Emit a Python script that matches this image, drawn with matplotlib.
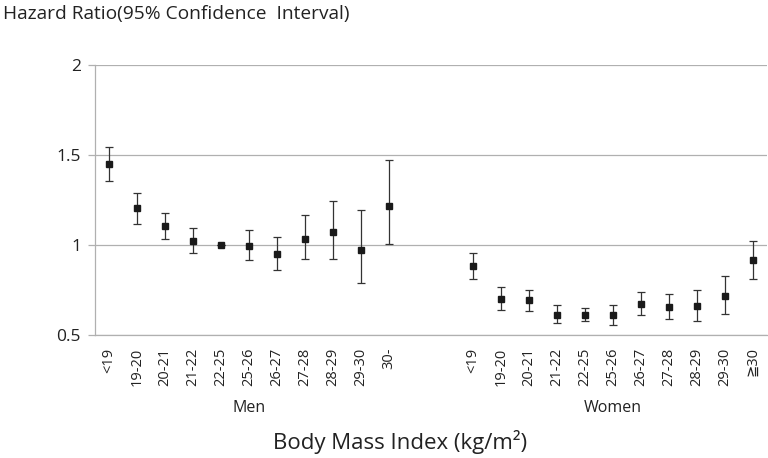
import numpy as np
import matplotlib.pyplot as plt
import matplotlib.transforms as mtransforms

plt.rcParams['font.family'] = ['Open Sans', 'DejaVu Sans']

# BMI categories for each group
men_labels = ['<19', '19-20', '20-21', '21-22', '22-25', '25-26', '26-27', '27-28', '28-29', '29-30', '30-']
women_labels = ['<19', '19-20', '20-21', '21-22', '22-25', '25-26', '26-27', '27-28', '28-29', '29-30', '≧30']

# hazard ratios with 95% CI
men_hr = [1.448, 1.204, 1.106, 1.022, 1.0, 0.994, 0.948, 1.035, 1.072, 0.970, 1.217]
men_lo = [1.355, 1.117, 1.032, 0.957, 1.0, 0.915, 0.859, 0.920, 0.924, 0.789, 1.007]
men_hi = [1.544, 1.289, 1.178, 1.094, 1.0, 1.081, 1.043, 1.165, 1.246, 1.196, 1.470]

women_hr = [0.883, 0.702, 0.694, 0.613, 0.613, 0.609, 0.674, 0.654, 0.663, 0.715, 0.915]
women_lo = [0.811, 0.637, 0.631, 0.565, 0.578, 0.557, 0.611, 0.587, 0.576, 0.615, 0.811]
women_hi = [0.956, 0.769, 0.752, 0.668, 0.650, 0.668, 0.741, 0.728, 0.752, 0.830, 1.024]

gap = 2  # empty slots between men and women

fig = plt.figure(figsize=(7.68, 4.58), dpi=100)
ax = fig.add_axes([0.1237, 0.2686, 0.8753, 0.5895])

x_men = np.arange(len(men_labels))
x_women = np.arange(len(women_labels)) + len(men_labels) + gap

for xs, hr, lo, hi in [(x_men, men_hr, men_lo, men_hi), (x_women, women_hr, women_lo, women_hi)]:
    hr = np.array(hr)
    err = np.vstack([hr - np.array(lo), np.array(hi) - hr])
    ax.errorbar(xs, hr, yerr=err, fmt='s', color='#1a1a1a', ecolor='#333333',
                elinewidth=0.9, capsize=2.6, capthick=0.9, markersize=3.8)

ax.set_ylim(0.5, 2)
ax.set_yticks([0.5, 1, 1.5, 2])
ax.set_yticklabels(['0.5', '1', '1.5', '2'])
ax.set_xlim(-0.5, len(men_labels) + gap + len(women_labels) - 0.5)
ax.yaxis.grid(True, color='#b0b0b0', linewidth=0.9)
ax.set_axisbelow(True)

ax.set_xticks(np.concatenate([x_men, x_women]))
ax.set_xticklabels(men_labels + women_labels, rotation=90, fontsize=10.5, color='#222222')
ax.tick_params(axis='x', length=0, pad=9)
ax.tick_params(axis='y', length=5, color='#b0b0b0', width=0.9, labelsize=12.5, labelcolor='#222222', pad=5)

for s in ['top', 'right']:
    ax.spines[s].set_visible(False)
ax.spines['left'].set_color('#b0b0b0')
ax.spines['bottom'].set_color('#b0b0b0')
ax.spines['left'].set_linewidth(0.9)
ax.spines['bottom'].set_linewidth(0.9)

trans = mtransforms.blended_transform_factory(ax.transData, fig.transFigure)
ax.text(x_men.mean(), 1 - 408 / 458, 'Men', transform=trans, ha='center', va='center',
        fontsize=11.5, color='#222222')
ax.text(x_women.mean(), 1 - 408 / 458, 'Women', transform=trans, ha='center', va='center',
        fontsize=11.5, color='#222222')

fig.text(400 / 768, 1 - 442 / 458, 'Body Mass Index (kg/m²)', ha='center', va='center',
         fontsize=16, color='#222222')
fig.text(3 / 768, 1 - 14 / 458, 'Hazard Ratio(95% Confidence  Interval)', ha='left', va='center',
         fontsize=13.8, color='#222222')

plt.savefig('out.png', dpi=100)
